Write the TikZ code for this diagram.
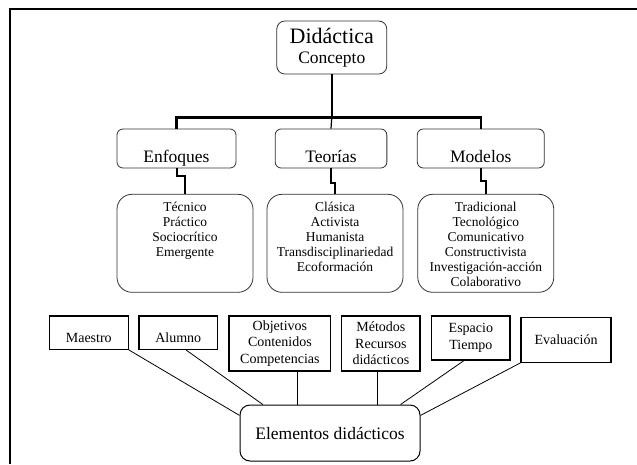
\documentclass[tikz,border=0pt]{standalone}
\usepackage{fontspec}
\setmainfont{Liberation Serif}

\begin{document}
\begin{tikzpicture}[x=1pt,y=-1pt,
	headbox/.style={draw=black!80, line width=0.8pt, rounded corners=6pt, inner sep=0pt, minimum height=39pt, text height=33pt, text depth=6pt, font=\fontsize{17.5}{20}\selectfont},
	listbox/.style={draw=black!80, line width=0.8pt, rounded corners=15pt, inner sep=0pt, font=\fontsize{13.5}{15}\selectfont,
		execute at begin node={\begin{minipage}[c][98pt][t]{136pt}\centering\rule{0pt}{17pt}},
		execute at end node={\end{minipage}}},
	elembox/.style={draw=black, line width=1.2pt, inner sep=0pt, align=center, font=\fontsize{14}{16.5}\selectfont},
	trunk/.style={line width=2.6pt},
	stepline/.style={line width=2pt},
	spoke/.style={line width=0.8pt}]
					\useasboundingbox (0,0) rectangle (637,464);

					% marco
					\coordinate (fbl) at (10,464);
					\coordinate (ftl) at (10,8.5);
					\coordinate (ftr) at (637,8.5);
					\draw[line width=2pt] (fbl) -- (ftl) -- (ftr);

					\node[draw=black!80, line width=0.8pt, rounded corners=8pt, align=center, inner sep=0pt, minimum width=110pt, minimum height=53pt, font=\fontsize{17.5}{20}\selectfont] at (331.8,47.5) (didac) {{\fontsize{22}{22}\selectfont Didáctica}\\Concepto};

					\node[headbox, minimum width=119pt] at (176.5,148.5) (enfoq) {Enfoques};
					\node[headbox, minimum width=111.7pt] at (331,148.5) (teor) {Teorías};
					\node[headbox, minimum width=127pt] at (480.8,148.5) (model) {Modelos};

					\node[listbox] at (185,243.3) (enfoql) {Técnico\\Práctico\\Sociocrítico\\Emergente};
					\node[listbox] at (335,243.3) (teorl) {Clásica\\Activista\\Humanista\\Transdisciplinariedad\\Ecoformación};
					\node[listbox] at (485.8,243.3) (modell) {Tradicional\\Tecnológico\\Comunicativo\\Constructivista\\Investigación-acción\\Colaborativo};

					\node[elembox, minimum width=79pt, minimum height=33.3pt, text height=26.8pt, text depth=6.5pt] at (88.8,332.7) (maes) {Maestro};
					\node[elembox, minimum width=78.7pt, minimum height=33.3pt, text height=26.8pt, text depth=6.5pt] at (178.3,332.7) (alum) {Alumno};
					\node[elembox, minimum width=101.7pt, minimum height=55pt] at (279.9,343.5) (obje) {Objetivos\\Contenidos\\Competencias};
					\node[elembox, minimum width=78.3pt, minimum height=55pt] at (380.9,343.5) (meto) {Métodos\\Recursos\\didácticos};
					\node[elembox, minimum width=78.3pt, minimum height=44pt] at (470.85,338) (espa) {Espacio\\Tiempo};
					\node[elembox, minimum width=90pt, minimum height=44.6pt] at (566,340) (eval) {Evaluación};

					\node[draw=black, line width=1pt, rounded corners=10pt, minimum width=180pt, minimum height=56pt, font=\fontsize{17.5}{20}\selectfont] at (330,433) (elem) {Elementos didácticos};

					\draw[trunk] (didac.south) -- ++(0,43) coordinate (hub);
					\draw[trunk] (hub) -| (enfoq.north);
					\draw[trunk] (hub) -| (model.north);
					\draw[line width=1.2pt] (hub) -- (teor.north);

					\draw[stepline] (enfoq.south) -- ++(0,8) -| (enfoql.north);
					\draw[stepline] (teor.south) -- ++(0,14.5) -| (teorl.north);
					\draw[stepline] (model.south) -- ++(0,13) -| (modell.north);

					\draw[spoke] (maes.south east) -- (elem.169);
					\draw[spoke] (alum.294) -- (elem.157);
					\draw[spoke] (elem.139 |- obje.south) -- (elem.139);
					\draw[spoke] (elem.31.5 |- meto.south) -- (elem.31.5);
					\draw[spoke] (espa.253) -- (elem.22.3);
					\draw[spoke] (eval.south west) -- (elem.11.3);
				\end{tikzpicture}
\end{document}
